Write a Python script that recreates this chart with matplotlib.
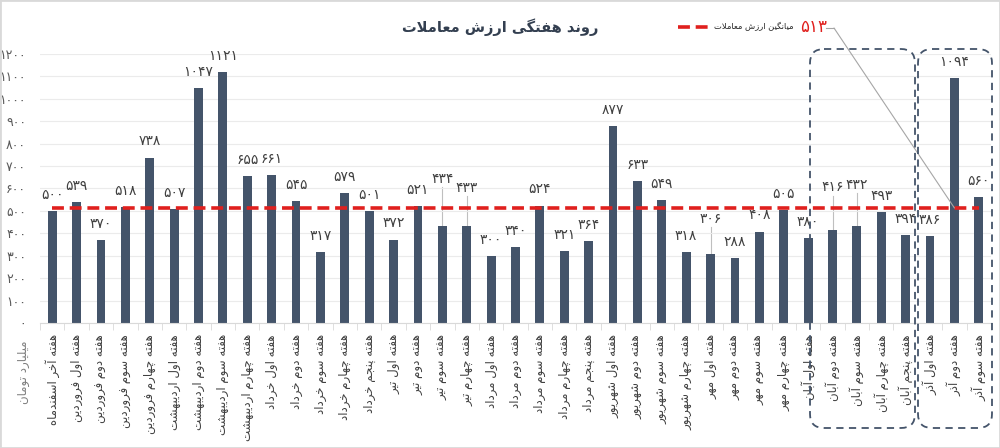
import matplotlib
matplotlib.use('Agg')
import matplotlib.pyplot as plt
from matplotlib.patches import FancyBboxPatch, Rectangle
from matplotlib.lines import Line2D
from matplotlib.transforms import Affine2D

# data
categories = [
    'هفته آخر اسفندماه', 'هفته اول فروردین', 'هفته دوم فروردین', 'هفته سوم فروردین',
    'هفته چهارم فروردین', 'هفته اول اردیبهشت', 'هفته دوم اردیبهشت', 'هفته سوم اردیبهشت',
    'هفته چهارم اردیبهشت', 'هفته اول خرداد', 'هفته دوم خرداد', 'هفته سوم خرداد',
    'هفته چهارم خرداد', 'هفته پنجم خرداد', 'هفته اول تیر', 'هفته دوم تیر',
    'هفته سوم تیر', 'هفته چهارم تیر', 'هفته اول مرداد', 'هفته دوم مرداد',
    'هفته سوم مرداد', 'هفته چهارم مرداد', 'هفته پنجم مرداد', 'هفته اول شهریور',
    'هفته دوم شهریور', 'هفته سوم شهریور', 'هفته چهارم شهریور', 'هفته اول مهر',
    'هفته دوم مهر', 'هفته سوم مهر', 'هفته چهارم مهر', 'هفته اول آبان',
    'هفته دوم آبان', 'هفته سوم آبان', 'هفته چهارم آبان', 'هفته پنجم آبان',
    'هفته اول آذر', 'هفته دوم آذر', 'هفته سوم آذر',
]
values = [500, 539, 370, 518, 738, 507, 1047, 1121, 655, 661, 545, 317, 579, 501,
          372, 521, 434, 433, 300, 340, 524, 321, 364, 877, 633, 549, 318, 306,
          288, 408, 505, 380, 416, 432, 493, 394, 386, 1094, 560]
average = 513
title = 'روند هفتگی ارزش معاملات'
avg_label = 'میانگین ارزش معاملات'
unit_label = 'میلیارد تومان'
yticks = list(range(0, 1300, 100))

# labels lifted higher, with a leader line (index: lift in data units)
lifted = {16: 210, 17: 170, 27: 160, 32: 190, 33: 185}

# --- minimal arabic/persian shaping (no reshaper lib available) ---
FORMS = {
    'ا': ('\uFE8D', '\uFE8E'), 'آ': ('\uFE81', '\uFE82'),
    'د': ('\uFEA9', '\uFEAA'), 'ذ': ('\uFEAB', '\uFEAC'),
    'ر': ('\uFEAD', '\uFEAE'), 'ز': ('\uFEAF', '\uFEB0'),
    'و': ('\uFEED', '\uFEEE'),
    'ب': ('\uFE8F', '\uFE90', '\uFE91', '\uFE92'),
    'پ': ('\uFB56', '\uFB57', '\uFB58', '\uFB59'),
    'ت': ('\uFE95', '\uFE96', '\uFE97', '\uFE98'),
    'ج': ('\uFE9D', '\uFE9E', '\uFE9F', '\uFEA0'),
    'چ': ('\uFB7A', '\uFB7B', '\uFB7C', '\uFB7D'),
    'خ': ('\uFEA5', '\uFEA6', '\uFEA7', '\uFEA8'),
    'س': ('\uFEB1', '\uFEB2', '\uFEB3', '\uFEB4'),
    'ش': ('\uFEB5', '\uFEB6', '\uFEB7', '\uFEB8'),
    'ع': ('\uFEC9', '\uFECA', '\uFECB', '\uFECC'),
    'ف': ('\uFED1', '\uFED2', '\uFED3', '\uFED4'),
    'گ': ('\uFB92', '\uFB93', '\uFB94', '\uFB95'),
    'ل': ('\uFEDD', '\uFEDE', '\uFEDF', '\uFEE0'),
    'م': ('\uFEE1', '\uFEE2', '\uFEE3', '\uFEE4'),
    'ن': ('\uFEE5', '\uFEE6', '\uFEE7', '\uFEE8'),
    'ه': ('\uFEE9', '\uFEEA', '\uFEEB', '\uFEEC'),
    'ی': ('\uFBFC', '\uFBFD', '\uFBFE', '\uFBFF'),
}


def dual(c):
    return c in FORMS and len(FORMS[c]) == 4


def shape(s):
    out = []
    i = 0
    while i < len(s):
        c = s[i]
        if c not in FORMS:
            out.append(c)
            i += 1
            continue
        jp = i > 0 and dual(s[i - 1])
        nxt = s[i + 1] if i + 1 < len(s) else ''
        if c == 'ل' and nxt in ('ا', 'آ'):
            lig = ('\uFEFB', '\uFEFC') if nxt == 'ا' else ('\uFEF5', '\uFEF6')
            out.append(lig[1] if jp else lig[0])
            i += 2
            continue
        jn = dual(c) and nxt in FORMS
        f = FORMS[c]
        if jp and jn:
            out.append(f[3])
        elif jn:
            out.append(f[2])
        elif jp:
            out.append(f[1])
        else:
            out.append(f[0])
        i += 1
    return ''.join(out)[::-1]


def fa(n):
    return str(n).translate(str.maketrans('0123456789', '۰۱۲۳۴۵۶۷۸۹'))


plt.rcParams['font.family'] = ['DejaVu Sans']

bar_color = '#44546A'
red = '#E0201E'
fig = plt.figure(figsize=(10, 4.48), dpi=100)
ax = fig.add_axes([0.04, 0.279, 0.951, 0.6005])
pxt = Affine2D().scale(1 / 1000, -1 / 448).translate(0, 1) + fig.transFigure

x = list(range(len(values)))
ax.bar(x, values, width=0.36, color=bar_color, zorder=2)
ax.plot([x[0], x[-1]], [average, average], color=red, lw=2.6,
        dashes=(3.3, 1.6), zorder=3)

for i, v in enumerate(values):
    lift = lifted.get(i, 72)
    ax.text(i, v + lift, fa(v), ha='center', va='center', fontsize=10,
            color='#404040', zorder=4)
    if i in lifted:
        ax.plot([i, i], [v, v + lift - 38], color='#BFBFBF', lw=0.8, zorder=1)

ax.set_xlim(-0.5, len(values) - 0.5)
ax.set_ylim(0, 1200)
ax.set_yticks(yticks)
ax.set_yticklabels([fa(t) for t in yticks], fontsize=9, color='#595959')
ax.set_xticks(x)
ax.set_xticklabels([shape(c) for c in categories], rotation=90, fontsize=8.5,
                   color='#404040')
ax.set_xticks([i - 0.5 for i in range(len(values) + 1)], minor=True)
ax.tick_params(axis='y', length=0, pad=10)
ax.tick_params(axis='x', which='major', length=0, pad=8)
ax.tick_params(axis='x', which='minor', length=5, color='#D9D9D9')
ax.grid(axis='y', color='#EBEBEB', lw=0.8, zorder=0)
for s in ['top', 'right', 'left']:
    ax.spines[s].set_visible(False)
ax.spines['bottom'].set_color('#D9D9D9')

fig.text(23 / 1000, 1 - 372 / 448, shape(unit_label), rotation=90, ha='center',
         va='center', fontsize=8.5, color='#7F7F7F')

# title
fig.text(0.5, 1 - 27 / 448, shape(title), ha='center', va='center',
         fontsize=10.5, fontweight='bold', color='#333F50')

# legend-like annotation
fig.add_artist(Line2D([678, 709], [27, 27], transform=pxt, color=red,
                      lw=2.6, dashes=(3.3, 1.6)))
fig.text(794 / 1000, 1 - 27 / 448, shape(avg_label), ha='right', va='center',
         fontsize=6, color='#262626')
fig.text(800 / 1000, 1 - 27 / 448, fa(average), ha='left', va='center',
         fontsize=12, color=red)
fig.add_artist(Line2D([826, 834], [28, 28], transform=pxt, color='#A6A6A6', lw=0.8))
ax.annotate('', xy=(37, average), xycoords='data', xytext=(834, 28),
            textcoords=pxt,
            arrowprops=dict(arrowstyle='-', color='#A6A6A6', lw=0.8,
                            shrinkA=0, shrinkB=0), zorder=5)

# highlight boxes
for x0, x1 in [(810, 915), (918, 992)]:
    fig.add_artist(FancyBboxPatch((x0, 49), x1 - x0, 379,
                                  boxstyle='round,pad=0,rounding_size=14',
                                  transform=pxt, fill=False, edgecolor='#44546A',
                                  lw=1.3, ls=(0, (4, 3))))

fig.add_artist(Rectangle((0, 0), 1, 1, transform=fig.transFigure, fill=False,
                         edgecolor='#D9D9D9', lw=2))

fig.savefig('out.png', dpi=100)
